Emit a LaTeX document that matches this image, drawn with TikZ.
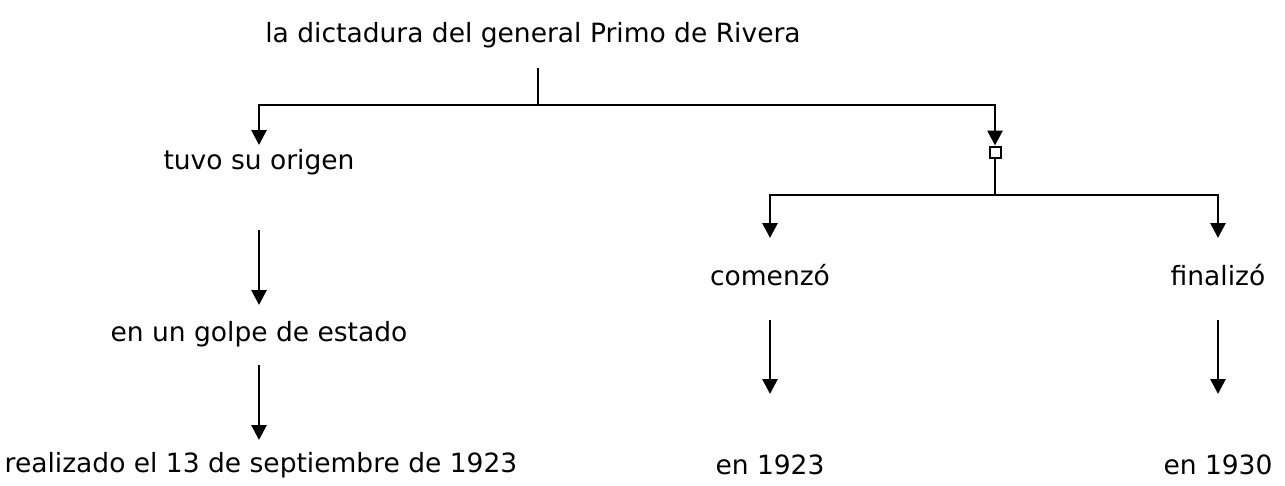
\documentclass[tikz,border=0pt]{standalone}
\usepackage{fontspec}
\setmainfont{DejaVu Sans}
\usetikzlibrary{arrows.meta}
\begin{document}
\begin{tikzpicture}[x=1pt,y=-1pt,
  lbl/.style={inner sep=0pt,font=\fontsize{26.5}{30}\selectfont},
  conn/.style={line width=2.8pt},
  arr/.style={conn,-{Triangle[length=15pt,width=15pt]}},
  sq/.style={draw,line width=2pt,fill=white,minimum size=11pt,inner sep=0pt}]
\useasboundingbox (0,0) rectangle (1285,485);
\node[lbl] (t) at (533,35) {la dictadura del general Primo de Rivera};
\node[lbl] (o) at (259,162) {tuvo su origen};
\node[lbl] (g) at (259,334) {en un golpe de estado};
\node[lbl] (r) at (261,465) {realizado el 13 de septiembre de 1923};
\node[lbl] (c) at (770,275) {comenzó};
\node[lbl] (f) at (1218,275) {finalizó};
\node[lbl] (c2) at (770,465) {en 1923};
\node[lbl] (f2) at (1218,465) {en 1930};
\coordinate (ttop) at (538,68);
\coordinate (j) at (538,105);
\coordinate (jl) at (259,105);
\coordinate (jr) at (995,105);
\coordinate (ol) at (259,145);
\node[sq] (s) at (995,152) {};
\coordinate (k) at (995,195);
\coordinate (kl) at (770,195);
\coordinate (kr) at (1218,195);
\coordinate (ct) at (770,238);
\coordinate (ft) at (1218,238);
\draw[conn] (ttop) -- (j);
\draw[arr] (j) -- (jl) -- (ol);
\draw[arr] (j) -- (jr) -- (s.north);
\draw[conn] (s.south) -- (k);
\draw[arr] (k) -- (kl) -- (ct);
\draw[arr] (k) -- (kr) -- (ft);
\draw[arr] (259,230) -- (259,305);
\draw[arr] (259,365) -- (259,440);
\draw[arr] (770,320) -- (770,394);
\draw[arr] (1218,320) -- (1218,394);
\end{tikzpicture}
\end{document}
